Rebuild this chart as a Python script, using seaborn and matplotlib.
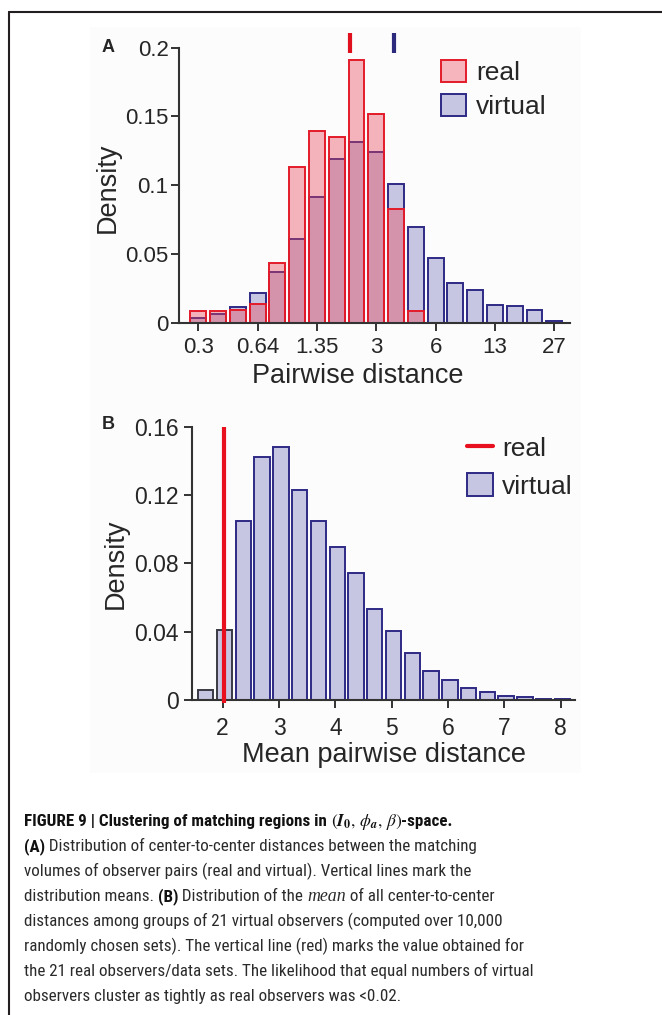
import os
import matplotlib
matplotlib.use("Agg")
import matplotlib.pyplot as plt
from matplotlib import font_manager
from matplotlib.font_manager import FontProperties
import numpy as np
import pandas as pd
import seaborn as sns
from matplotlib.lines import Line2D
from matplotlib.patches import Patch, Rectangle

# ---------------- data ----------------
# Panel A: log-spaced bins, first bin centred on 0.3, last on 27 (19 bins)
a_first_center = 0.3
a_last_center = 27.0
a_tick_labels = ["0.3", "0.64", "1.35", "3", "6", "13", "27"]
a_real = [0.0087, 0.0087, 0.0090, 0.0133, 0.0436, 0.1132, 0.1392, 0.1348,
          0.1913, 0.1520, 0.0827, 0.0087, 0.0, 0.0, 0.0, 0.0, 0.0, 0.0, 0.0]
a_virtual = [0.0032, 0.0063, 0.0114, 0.0213, 0.0366, 0.0606, 0.0914, 0.1188,
             0.1312, 0.1241, 0.1011, 0.0696, 0.0468, 0.0288, 0.0235, 0.0126,
             0.0121, 0.0092, 0.0012]
a_real_mean = 2.05
a_virtual_mean = 3.54
a_yticks = [0, 0.05, 0.1, 0.15, 0.2]
a_ytick_labels = ["0", "0.05", "0.1", "0.15", "0.2"]

# Panel B: linear bins of width 1/3, first bin centred on 1.70 (20 bins)
b_first_center = 1.70
b_bin_width = 1.0 / 3.0
b_virtual = [0.0057, 0.0412, 0.1050, 0.1424, 0.1481, 0.1227, 0.1048, 0.0898,
             0.0745, 0.0535, 0.0404, 0.0277, 0.0172, 0.0115, 0.0072, 0.0047,
             0.0023, 0.0016, 0.0006, 0.0004]
b_real = 2.02
b_xticks = [2, 3, 4, 5, 6, 7, 8]
b_yticks = [0, 0.04, 0.08, 0.12, 0.16]
b_ytick_labels = ["0", "0.04", "0.08", "0.12", "0.16"]

# ---------------- style ----------------
sns.set_theme(style="ticks")
plt.rcParams["font.family"] = ["Liberation Sans", "DejaVu Sans"]
plt.rcParams["mathtext.fontset"] = "stix"

W, H = 662, 1015
fig = plt.figure(figsize=(W / 100, H / 100), dpi=100)
fig.patch.set_facecolor("white")

RED_EDGE = "#e31b2a"
RED_FILL = (0.91, 0.27, 0.35, 0.40)
RED_ONLY = "#f6b5bd"
NAVY = "#2e2a86"
LAV = "#c7c6e2"
SPINE = "#333333"

# faint panel background
fig.add_artist(Rectangle((90 / W, 1 - 773 / H), (581 - 90) / W, (773 - 27) / H,
                         transform=fig.transFigure, facecolor="#fcfcfc",
                         edgecolor="none", zorder=-5))
# open frame (top + left)
fig.add_artist(Line2D([9 / W, 1.0], [1 - 12 / H] * 2, transform=fig.transFigure,
                      color="#231f20", lw=1.5))
fig.add_artist(Line2D([9 / W] * 2, [0, 1 - 12 / H], transform=fig.transFigure,
                      color="#231f20", lw=1.5))


def ax_at(left, top, right, bottom):
    return fig.add_axes([left / W, 1 - bottom / H, (right - left) / W, (bottom - top) / H])


def style_axis(ax):
    sns.despine(ax=ax)
    ax.set_facecolor("none")
    for s in ("left", "bottom"):
        ax.spines[s].set_linewidth(1.5)
        ax.spines[s].set_color(SPINE)
    ax.tick_params(direction="out", length=6, width=1.4, color=SPINE)
    ax.grid(False)


# ---------------- Panel A ----------------
axA = ax_at(179, 47.7, 570, 322.7)
nA = len(a_virtual)
cA = np.linspace(np.log10(a_first_center), np.log10(a_last_center), nA)
stepA = cA[1] - cA[0]
edgesA = [float(e) for e in np.concatenate([cA - stepA / 2, [cA[-1] + stepA / 2]])]

dfA_virtual = pd.DataFrame({"logd": cA, "w": a_virtual})
dfA_real = pd.DataFrame({"logd": cA, "w": a_real})
sns.histplot(data=dfA_virtual, x="logd", weights="w", bins=edgesA, shrink=0.8,
             ax=axA)
sns.histplot(data=dfA_real, x="logd", weights="w", bins=edgesA, shrink=0.8,
             ax=axA)
for cont, fc, ec in zip(axA.containers, [LAV, RED_FILL], [NAVY, RED_EDGE]):
    for p in list(cont.patches):
        if p.get_height() <= 0:
            p.remove()
            continue
        p.set_alpha(None)
        p.set_facecolor(fc)
        p.set_edgecolor(ec)
        p.set_linewidth(1.4)

axA.vlines([np.log10(a_real_mean)], 0.1958, 0.2109, color="#e0101e", lw=3, clip_on=False)
axA.vlines([np.log10(a_virtual_mean)], 0.1958, 0.2109, color="#2b2a7c", lw=3, clip_on=False)

axA.set_xlim(cA[0] - 19.3 / 59.33 * 3 * stepA, cA[0] + 371.7 / 59.33 * 3 * stepA)
axA.set_ylim(0, 0.2)
style_axis(axA)
axA.set_xticks(cA[::3])
axA.set_xticklabels(a_tick_labels, fontsize=16)
axA.set_yticks(a_yticks)
axA.set_yticklabels(a_ytick_labels, fontsize=16)
axA.tick_params(axis="x", pad=4.5)
axA.tick_params(axis="y", pad=1.5)
axA.set_xlabel("Pairwise distance", fontsize=19.5)
axA.set_ylabel("Density", fontsize=19.5)
axA.xaxis.label.set_va("baseline")
axA.xaxis.set_label_coords((358 - 179) / 391, (322.7 - 383.3) / 275)
axA.yaxis.label.set_va("baseline")
axA.yaxis.set_label_coords((115 - 179) / 391, 0.49)

legA = axA.legend(
    [Patch(facecolor=RED_ONLY, edgecolor=RED_EDGE, lw=1.4),
     Patch(facecolor=LAV, edgecolor=NAVY, lw=1.4)],
    ["real", "virtual"], loc="upper left",
    bbox_to_anchor=((440.7 - 179) / 391, (322.7 - 60) / 275),
    frameon=False, fontsize=19, handlelength=0.95, handleheight=0.92,
    handletextpad=0.4, labelspacing=0.32, borderpad=0, borderaxespad=0)

# ---------------- Panel B ----------------
axB = ax_at(191.7, 426.7, 575, 700)
nB = len(b_virtual)
edgesB_arr = b_first_center - b_bin_width / 2 + b_bin_width * np.arange(nB + 1)
cB = (edgesB_arr[:-1] + edgesB_arr[1:]) / 2
edgesB = [float(e) for e in edgesB_arr]
dfB = pd.DataFrame({"d": cB, "w": b_virtual})
sns.histplot(data=dfB, x="d", weights="w", bins=edgesB, shrink=0.82, ax=axB)
for p, left in zip(axB.containers[0].patches, edgesB[:-1]):
    p.set_alpha(None)
    p.set_facecolor(LAV)
    p.set_edgecolor("#3a3a44" if left < b_real else NAVY)
    p.set_linewidth(1.4)
axB.vlines([b_real], -0.0015, 0.16, color="#e8101e", lw=3, clip_on=False, zorder=5)

axB.set_xlim(1.45, 8.255)
axB.set_ylim(0, 0.16)
style_axis(axB)
axB.set_xticks(b_xticks)
axB.set_xticklabels([str(v) for v in b_xticks], fontsize=16.5)
axB.set_yticks(b_yticks)
axB.set_yticklabels(b_ytick_labels, fontsize=16.5)
axB.tick_params(axis="x", pad=6.5)
axB.tick_params(axis="y", pad=3.2)
axB.set_xlabel("Mean pairwise distance", fontsize=19.5)
axB.set_ylabel("Density", fontsize=19.5)
axB.xaxis.label.set_va("baseline")
axB.xaxis.set_label_coords((383.7 - 191.7) / 383.3, (700 - 761.7) / 273.3)
axB.yaxis.label.set_va("baseline")
axB.yaxis.set_label_coords((122.7 - 191.7) / 383.3, 0.5)

legB = axB.legend(
    [Line2D([0], [0], color="#e8101e", lw=3),
     Patch(facecolor=LAV, edgecolor=NAVY, lw=1.4)],
    ["real", "virtual"], loc="upper left",
    bbox_to_anchor=((466.7 - 191.7) / 383.3, (700 - 436) / 273.3),
    frameon=False, fontsize=19, handlelength=1.0, handleheight=0.92,
    handletextpad=0.35, labelspacing=0.46, borderpad=0, borderaxespad=0)

# panel letters
fig.text(101.7 / W, 1 - 51.7 / H, "A", fontsize=13, fontweight="bold", va="baseline")
fig.text(101.7 / W, 1 - 429.3 / H, "B", fontsize=13, fontweight="bold", va="baseline")

# ---------------- caption ----------------
renderer = fig.canvas.get_renderer()

# pick a condensed sans face if one is installed
by_name = {}
for f in font_manager.fontManager.ttflist:
    by_name.setdefault(os.path.basename(f.fname).lower(), f.fname)
pairs = [
    ("liberationsansnarrow-regular.ttf", "liberationsansnarrow-bold.ttf"),
    ("notosans-condensed.ttf", "notosans-condensedbold.ttf"),
    ("robotocondensed-regular.ttf", "robotocondensed-bold.ttf"),
    ("dejavusanscondensed.ttf", "dejavusanscondensed-bold.ttf"),
    ("opensans-condregular.ttf", "opensans-condbold.ttf"),
]
reg_fp = bold_fp = None
for r, b in pairs:
    if r in by_name and b in by_name:
        reg_fp = FontProperties(fname=by_name[r])
        bold_fp = FontProperties(fname=by_name[b])
        break
if reg_fp is None:
    reg_fp = FontProperties(family=["Liberation Sans", "DejaVu Sans"])
    bold_fp = FontProperties(family=["Liberation Sans", "DejaVu Sans"], weight="bold")


def text_width(s, **kw):
    t1 = fig.text(0, 0, s + "|", **kw)
    w1 = t1.get_window_extent(renderer).width
    t1.remove()
    t2 = fig.text(0, 0, "|", **kw)
    w2 = t2.get_window_extent(renderer).width
    t2.remove()
    return w1 - w2


def fp_at(fp, size):
    q = fp.copy()
    q.set_size(size)
    return q


probe = "the 21 real observers/data sets. The likelihood that equal numbers of virtual"
fs = 12.0
fs = fs * 508.0 / text_width(probe, fontproperties=fp_at(reg_fp, fs))

body = dict(fontproperties=fp_at(reg_fp, fs), color="#2a2a2a")
bold = dict(fontproperties=fp_at(bold_fp, fs), color="#111111")
ital = dict(family=["Liberation Serif", "DejaVu Serif"], fontsize=fs * 1.05,
            color="#2a2a2a", style="italic")
mathkw = dict(fontsize=fs * 1.02, color="#111111")

math_s = r"$(\mathbfit{I}_{\mathbf{0}},\,\phi_{\mathbfit{a}},\,\beta)$"
try:
    text_width(math_s, **mathkw)
except Exception:
    math_s = r"$(\mathit{I}_{\mathbf{0}},\,\phi_{\mathit{a}},\,\beta)$"

lines = [
    [("FIGURE 9 | Clustering of matching regions in ", bold), (math_s, mathkw), ("-space.", bold)],
    [("(A)", bold), (" Distribution of center-to-center distances between the matching", body)],
    [("volumes of observer pairs (real and virtual). Vertical lines mark the", body)],
    [("distribution means. ", body), ("(B)", bold), (" Distribution of the ", body),
     ("mean", ital), (" of all center-to-center", body)],
    [("distances among groups of 21 virtual observers (computed over 10,000", body)],
    [("randomly chosen sets). The vertical line (red) marks the value obtained for", body)],
    [(probe, body)],
    [("observers cluster as tightly as real observers was <0.02.", body)],
]

x0 = 24.0
for i, runs in enumerate(lines):
    y = 826.0 + 25.0 * i
    x = x0
    for s, kw in runs:
        fig.text(x / W, 1 - y / H, s, ha="left", va="baseline", **kw)
        x += text_width(s, **kw)

fig.savefig("out.png", dpi=100)
